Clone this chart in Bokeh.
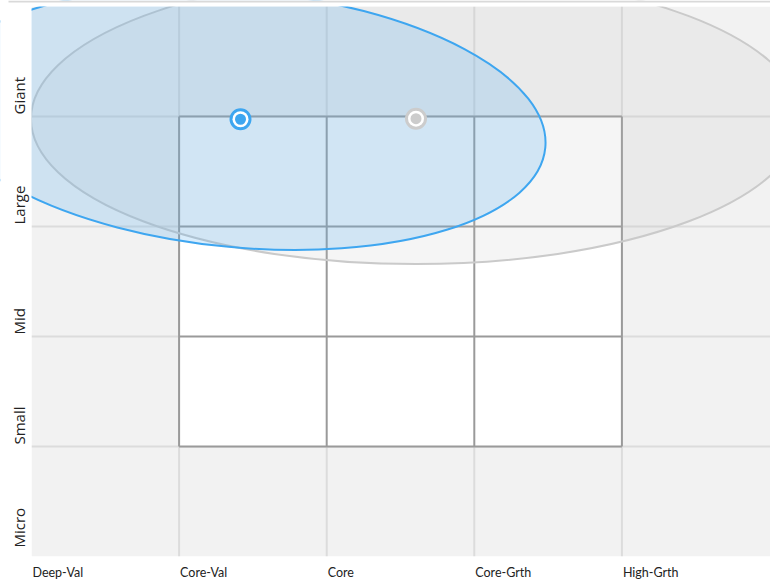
from bokeh.plotting import figure
from bokeh.models import Range1d
from bokeh.core.properties import value
from bokeh.embed import file_html
from bokeh.resources import INLINE
import math

# ---- data ----
style_labels = ["Deep-Val", "Core-Val", "Core", "Core-Grth", "High-Grth"]
size_labels = ["Micro", "Small", "Mid", "Large", "Giant"]

# style box (inner 3x3 grid) edges
box_edges = [1, 2, 3, 4]

# centroids
fund_x = [1.416]
fund_y = [3.975]
index_x = [2.605]
index_y = [3.98]

# ownership zones (ellipses)
fund_zone_w = [4.148]
fund_zone_h = [2.33]
fund_zone_angle = [-0.093]
index_zone_w = [5.217]
index_zone_h = [2.644]

# ---- layout ----
W, H = 770, 580
PX_X, PX_Y = 147.6, 110.0           # pixels per unit
LEFT, TOP = 31, 6                   # margin around the grid area (px)

n_cols = len(style_labels)
n_rows = len(size_labels)

x0 = -LEFT / PX_X
x1 = x0 + W / PX_X
y1 = n_rows + TOP / PX_Y
y0 = y1 - H / PX_Y

p = figure(width=W, height=H, output_backend="svg", toolbar_location=None,
           x_axis_location=None, y_axis_location=None,
           x_range=Range1d(x0, x1), y_range=Range1d(y0, y1),
           min_border=0)
p.background_fill_color = "white"
p.border_fill_color = "white"
p.outline_line_color = None
p.xgrid.visible = False
p.ygrid.visible = False

# grid area background
p.quad(left=[0], right=[x1 + 1], bottom=[0], top=[n_rows], fill_color="#f2f2f2", line_color=None)

# light grid lines
gx = list(range(1, n_cols))
gy = list(range(1, n_rows))
p.segment(x0=gx, x1=gx, y0=[0] * len(gx), y1=[n_rows] * len(gx), line_color="#dcdcdc", line_width=2)
p.segment(x0=[0] * len(gy), x1=[x1 + 1] * len(gy), y0=gy, y1=gy, line_color="#dcdcdc", line_width=2)

# style box
b0, b1 = box_edges[0], box_edges[-1]
p.quad(left=[b0], right=[b1], bottom=[b0], top=[b1], fill_color="white", line_color=None)
p.segment(x0=box_edges, x1=box_edges, y0=[b0] * 4, y1=[b1] * 4, line_color="#9a9a9a", line_width=2)
p.segment(x0=[b0] * 4, x1=[b1] * 4, y0=box_edges, y1=box_edges, line_color="#9a9a9a", line_width=2)

# zones
p.ellipse(x=index_x, y=index_y, width=index_zone_w, height=index_zone_h,
          fill_color="#bebebe", fill_alpha=0.15, line_color="#cacaca", line_width=2)
p.ellipse(x=fund_x, y=fund_y, width=fund_zone_w, height=fund_zone_h, angle=fund_zone_angle,
          fill_color="#41a5ee", fill_alpha=0.2, line_color="#3ea6f0", line_width=2)

# centroids
for xs, ys, col in [(index_x, index_y, "#cccccc"), (fund_x, fund_y, "#3ea6f0")]:
    p.scatter(x=xs, y=ys, size=22, fill_color=col, line_color=None)
    p.scatter(x=xs, y=ys, size=16, fill_color="white", line_color=None)
    p.scatter(x=xs, y=ys, size=11, fill_color=col, line_color=None)

# white masks outside the grid area (clip zones)
e = 1.0
p.quad(left=[x0 - e, x0 - e, x0 - e], right=[0, x1 + e, x1 + e],
       bottom=[y0 - e, n_rows, y0 - e], top=[y1 + e, y1 + e, 0],
       fill_color="white", line_color=None)

# thin rule along the very top
p.segment(x0=[x0 + 8 / PX_X], x1=[x1 + e], y0=[y1 - 1 / PX_Y], y1=[y1 - 1 / PX_Y],
          line_color="#d9d9d9", line_width=2)

# x labels (left aligned at column starts)
p.text(x=list(range(n_cols)), y=[0] * n_cols, text=style_labels, x_offset=1, y_offset=8,
       text_align="left", text_baseline="top", text_font=value("Lato"),
       text_font_size="12.5px", text_color="#222222")

# y labels (rotated, ending at row bottoms)
ly = [(9 if i == 0 else 2) / PX_Y + i for i in range(n_rows)]
p.text(x=[-12.5 / PX_X] * n_rows, y=ly, text=size_labels,
       angle=math.pi / 2, text_align="left", text_baseline="middle",
       text_font=value("Open Sans"), text_font_size="15px", text_color="#222222")

open("out.html", "w").write(file_html(p, INLINE))
